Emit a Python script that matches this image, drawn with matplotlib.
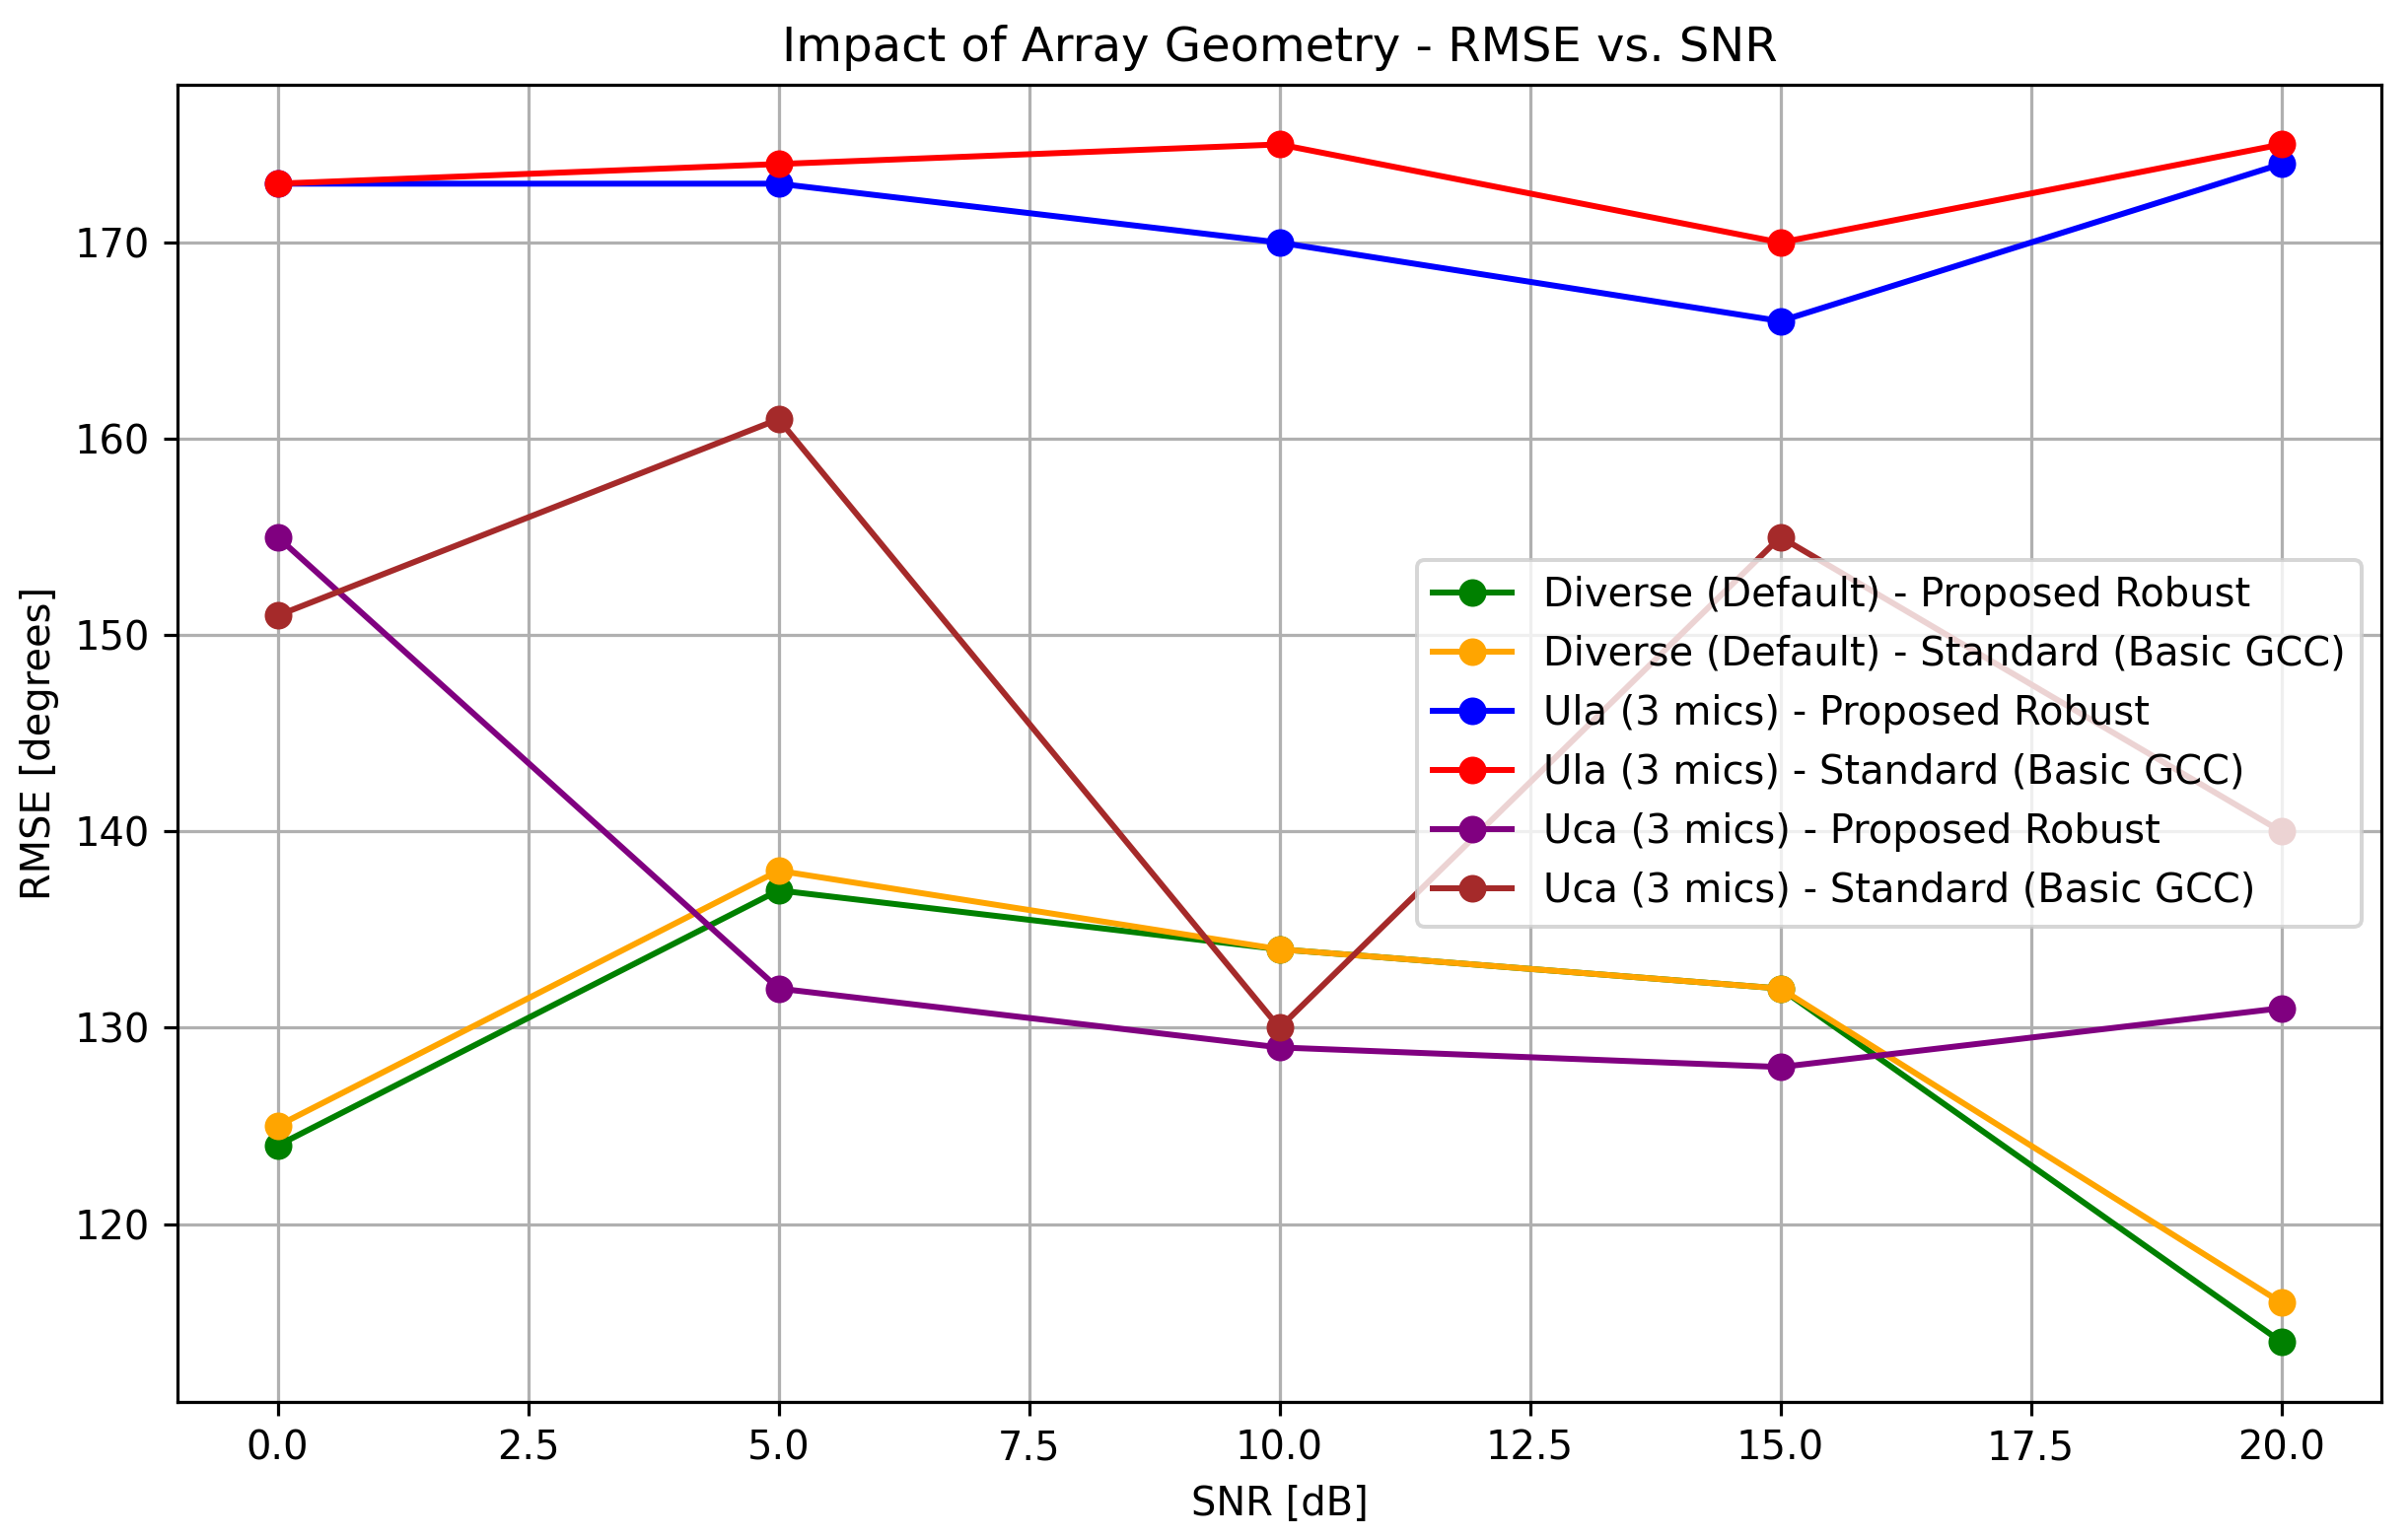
#!/usr/bin/env python3

import matplotlib
matplotlib.use("Agg")
from matplotlib.pyplot import close, savefig, subplots

snr = [0, 5, 10, 15, 20]

diverse_robust = [124, 137, 134, 132, 114]
diverse_standard = [125, 138, 134, 132, 116]
ula_robust = [173, 173, 170, 166, 174]
ula_standard = [173, 174, 175, 170, 175]
uca_robust = [155, 132, 129, 128, 131]
uca_standard = [151, 161, 130, 155, 140]

series = [
    ("Diverse (Default) - Proposed Robust", diverse_robust, "green"),
    ("Diverse (Default) - Standard (Basic GCC)", diverse_standard, "orange"),
    ("Ula (3 mics) - Proposed Robust", ula_robust, "blue"),
    ("Ula (3 mics) - Standard (Basic GCC)", ula_standard, "red"),
    ("Uca (3 mics) - Proposed Robust", uca_robust, "purple"),
    ("Uca (3 mics) - Standard (Basic GCC)", uca_standard, "brown"),
]


def main():
    fig, ax = subplots(figsize=(2442 / 288, 1559 / 288), dpi=288)
    for label, values, color in series:
        ax.plot(snr, values, marker="o", color=color, label=label)
    ax.set_title("Impact of Array Geometry - RMSE vs. SNR")
    ax.set_xlabel("SNR [dB]")
    ax.set_ylabel("RMSE [degrees]")
    ax.grid(True)
    ax.legend(loc="center right")
    fig.subplots_adjust(left=0.0737, right=0.989, top=0.945, bottom=0.088)
    savefig("out.png", dpi=288)
    close()


if __name__ == "__main__":
    main()
